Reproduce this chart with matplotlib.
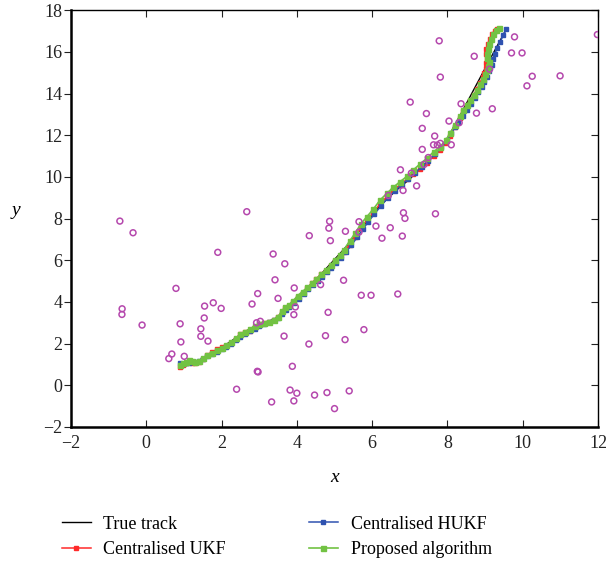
import matplotlib
matplotlib.use('Agg')
import matplotlib.pyplot as plt

# noisy measurements
meas_x = [-0.70, -0.35, 2.67, 1.90, 0.79, -0.64, -0.645, -0.11, 0.90, 0.92, 0.68, 0.60, 1.01,
          1.78, 1.55, 1.99, 1.54, 1.45, 1.45, 1.64, 2.81, 2.96, 3.37, 3.42, 3.68, 3.50, 3.93,
          3.96, 3.92, 3.66, 2.93, 3.03, 2.95, 2.97, 2.40, 3.33, 3.82, 3.88, 3.92, 4.00,
          4.33, 4.87, 4.85, 4.89, 5.29, 5.65, 5.65, 6.10, 6.26, 6.48, 6.80, 6.83, 6.87, 7.68,
          4.63, 5.24, 5.71, 5.97, 6.68, 4.83, 5.78, 4.76, 5.28, 4.32, 4.47, 4.80, 5.39, 5.00,
          7.78, 7.81, 8.71, 7.01, 7.44, 7.33, 7.66, 7.63, 7.73, 7.81, 8.10, 8.04, 8.36, 8.31,
          8.77, 9.19, 9.12, 9.78, 9.70, 9.98, 10.25, 10.11, 10.99, 11.98, 6.75, 7.04, 7.18,
          7.33, 6.82, 6.43, 7.38, 7.49]
meas_y = [7.88, 7.32, 8.33, 6.38, 4.65, 3.67, 3.40, 2.89, 2.95, 2.08, 1.50, 1.28, 1.39,
          3.96, 3.80, 3.69, 3.23, 2.71, 2.35, 2.12, 3.90, 4.40, 6.30, 5.06, 5.83, 4.17, 4.67,
          3.76, 3.39, 2.36, 3.00, 3.07, 0.67, 0.64, -0.19, -0.80, -0.23, 0.91, -0.75, -0.38,
          7.18, 7.87, 7.54, 6.94, 7.39, 7.85, 7.35, 7.64, 7.06, 7.56, 7.16, 8.28, 8.01, 8.23,
          4.83, 5.04, 4.32, 4.32, 4.38, 3.50, 2.67, 2.38, 2.19, 1.98, -0.47, -0.35, -0.27, -1.12,
          16.53, 14.79, 15.79, 13.59, 13.04, 12.33, 11.96, 11.54, 11.53, 11.61, 11.54, 12.68, 13.51, 12.60,
          13.06, 13.27, 15.17, 16.72, 15.95, 15.95, 14.83, 14.37, 14.85, 16.83, 10.34, 10.18, 9.57,
          11.32, 9.35, 9.11, 10.60, 10.93]

# true trajectory
true_x = [0.90, 1.10, 1.34, 1.60, 1.87, 2.20, 2.49, 2.75, 3.00, 3.25, 3.46, 3.62, 3.75, 4.08,
          4.35, 4.62, 4.92, 5.23, 5.50, 5.86, 6.15, 6.40, 6.70, 7.00, 7.36, 7.62, 7.85, 8.00,
          8.35, 8.69, 9.10, 9.57]
true_y = [1.00, 1.05, 1.13, 1.40, 1.69, 2.05, 2.41, 2.70, 2.94, 3.08, 3.20, 3.45, 3.75, 4.25,
          4.75, 5.29, 5.88, 6.49, 7.05, 7.85, 8.49, 8.95, 9.45, 9.90, 10.57, 11.00, 11.45, 11.85,
          13.00, 14.16, 15.55, 17.12]

# centralised UKF
ukf_x = [0.90, 0.98, 1.06, 1.14, 1.22, 1.30, 1.40, 1.50, 1.62, 1.75, 1.88, 2.00, 2.12, 2.25,
         2.38, 2.50, 2.62, 2.75, 2.88, 3.00, 3.12, 3.25, 3.38, 3.50, 3.60, 3.68, 3.78, 3.90,
         4.02, 4.15, 4.28, 4.40, 4.52, 4.65, 4.78, 4.90, 5.02, 5.14, 5.25, 5.40, 5.55, 5.70,
         5.86, 6.03, 6.21, 6.39, 6.56, 6.74, 6.92, 7.09, 7.27, 7.45, 7.63, 7.80, 7.95, 8.07,
         8.20, 8.32, 8.42, 8.52, 8.60, 8.70, 8.78, 8.86, 8.93, 8.98, 9.01, 9.03, 9.04, 9.02,
         9.03, 9.07, 9.12, 9.18, 9.25, 9.32]
ukf_y = [0.88, 0.98, 1.05, 1.10, 1.08, 1.05, 1.12, 1.28, 1.45, 1.60, 1.72, 1.82, 1.90, 2.05,
         2.22, 2.48, 2.55, 2.62, 2.80, 2.92, 2.98, 3.05, 3.12, 3.28, 3.50, 3.70, 3.82, 4.02,
         4.25, 4.45, 4.68, 4.90, 5.10, 5.32, 5.50, 5.72, 5.95, 6.18, 6.40, 6.75, 7.12, 7.55,
         7.92, 8.30, 8.70, 9.05, 9.35, 9.62, 9.88, 10.12, 10.40, 10.68, 11.00, 11.30, 11.62, 11.98,
         12.40, 12.82, 13.15, 13.42, 13.66, 13.95, 14.20, 14.50, 14.78, 15.00, 15.22, 15.45, 15.68, 15.90,
         16.12, 16.38, 16.62, 16.85, 17.02, 17.12]

# centralised HUKF
hukf_x = [0.90, 0.98, 1.06, 1.14, 1.22, 1.30, 1.40, 1.50, 1.62, 1.75, 1.88, 2.00, 2.12, 2.25,
          2.38, 2.50, 2.62, 2.75, 2.88, 3.00, 3.12, 3.25, 3.38, 3.50, 3.60, 3.70, 3.80, 3.92,
          4.05, 4.18, 4.30, 4.42, 4.55, 4.68, 4.80, 4.92, 5.05, 5.18, 5.30, 5.45, 5.60, 5.75,
          5.90, 6.06, 6.24, 6.42, 6.60, 6.78, 6.96, 7.13, 7.31, 7.49, 7.67, 7.84, 7.98, 8.10,
          8.20, 8.29, 8.40, 8.51, 8.62, 8.73, 8.82, 8.91, 8.98, 9.04, 9.11, 9.18, 9.22, 9.26,
          9.32, 9.40, 9.48, 9.56]
hukf_y = [1.05, 1.04, 1.06, 1.08, 1.10, 1.12, 1.18, 1.28, 1.40, 1.50, 1.60, 1.72, 1.85, 2.00,
          2.15, 2.32, 2.48, 2.60, 2.72, 2.85, 2.95, 3.02, 3.12, 3.25, 3.40, 3.60, 3.78, 3.95,
          4.15, 4.38, 4.60, 4.82, 5.02, 5.22, 5.42, 5.65, 5.88, 6.12, 6.38, 6.72, 7.10, 7.48,
          7.85, 8.22, 8.62, 9.00, 9.32, 9.62, 9.90, 10.18, 10.48, 10.78, 11.10, 11.42, 11.75, 12.10,
          12.38, 12.64, 12.92, 13.20, 13.50, 13.81, 14.06, 14.32, 14.56, 14.80, 15.08, 15.36, 15.64, 15.92,
          16.20, 16.48, 16.80, 17.09]

# proposed algorithm
prop_x = [0.90, 0.98, 1.06, 1.14, 1.22, 1.30, 1.40, 1.50, 1.62, 1.75, 1.88, 2.00, 2.12, 2.25,
          2.38, 2.50, 2.62, 2.75, 2.88, 3.00, 3.12, 3.25, 3.38, 3.50, 3.60, 3.68, 3.78, 3.90,
          4.02, 4.15, 4.28, 4.40, 4.52, 4.65, 4.78, 4.90, 5.02, 5.14, 5.25, 5.40, 5.55, 5.70,
          5.86, 6.03, 6.21, 6.39, 6.56, 6.74, 6.92, 7.09, 7.27, 7.45, 7.63, 7.80, 7.95, 8.07,
          8.20, 8.32, 8.42, 8.52, 8.60, 8.70, 8.78, 8.87, 8.95, 9.00, 9.04, 9.07, 9.09, 9.06,
          9.04, 9.07, 9.10, 9.15, 9.22, 9.30, 9.37]
prop_y = [0.95, 1.05, 1.12, 1.20, 1.18, 1.10, 1.15, 1.30, 1.45, 1.55, 1.68, 1.80, 1.92, 2.08,
          2.25, 2.45, 2.58, 2.70, 2.85, 2.95, 3.00, 3.05, 3.15, 3.30, 3.55, 3.75, 3.85, 4.05,
          4.30, 4.50, 4.70, 4.90, 5.12, 5.35, 5.55, 5.78, 6.02, 6.25, 6.50, 6.92, 7.30, 7.75,
          8.09, 8.45, 8.89, 9.21, 9.50, 9.77, 10.02, 10.33, 10.62, 10.89, 11.20, 11.45, 11.75, 12.10,
          12.50, 12.90, 13.20, 13.45, 13.68, 13.95, 14.16, 14.45, 14.72, 14.92, 15.12, 15.32, 15.52, 15.72,
          15.92, 16.15, 16.40, 16.62, 16.88, 17.05, 17.17]

x_ticks = [-2, 0, 2, 4, 6, 8, 10, 12]
y_ticks = [-2, 0, 2, 4, 6, 8, 10, 12, 14, 16, 18]

plt.rcParams['font.family'] = ['Liberation Serif', 'DejaVu Serif']
plt.rcParams['axes.unicode_minus'] = True

fig = plt.figure(figsize=(6.06, 5.67), dpi=100)
ax = fig.add_axes([0.117, 0.247, 0.870, 0.735])

ax.plot(true_x, true_y, color='black', lw=1.0, label='True track', zorder=2)
ax.plot(ukf_x, ukf_y, color='#ff2a2a', lw=1.1, marker='s', ms=3.0, label='Centralised UKF', zorder=3)
ax.plot(hukf_x, hukf_y, color='#2f52b0', lw=1.1, marker='s', ms=3.0, label='Centralised HUKF', zorder=4)
ax.plot(prop_x, prop_y, color='#72c243', lw=1.2, marker='s', ms=3.6, label='Proposed algorithm', zorder=5)
ax.scatter(meas_x, meas_y, s=18, facecolors='none', edgecolors='#b548ad', linewidths=1.1, zorder=6)

ax.set_xlim(-2, 12)
ax.set_ylim(-2, 18)
ax.set_xticks(x_ticks)
ax.set_yticks(y_ticks)
ax.tick_params(axis='both', labelsize=13, colors='#222222')
ax.tick_params(axis='x', direction='in', top=True, length=5, pad=6)
ax.tick_params(axis='y', direction='in', right=True, length=5, pad=6)
# left ticks point outwards
for t in ax.yaxis.get_major_ticks():
    t.tick1line.set_marker(matplotlib.lines.TICKLEFT)

for side in ['left', 'bottom']:
    ax.spines[side].set_linewidth(1.8)
for side in ['top', 'right']:
    ax.spines[side].set_linewidth(1.0)

ax.set_xlabel('x', fontsize=14, style='italic', labelpad=12)
ax.set_ylabel('y', fontsize=14, style='italic', rotation=0)
ax.yaxis.set_label_coords(-0.105, 0.5)

fig.legend(loc='lower left', bbox_to_anchor=(0.102, 0.016), ncol=2, frameon=False,
           fontsize=13, handlelength=1.6, columnspacing=4.6, labelspacing=0.45,
           handletextpad=0.7, borderpad=0, borderaxespad=0)

plt.savefig('out.png', dpi=100)
